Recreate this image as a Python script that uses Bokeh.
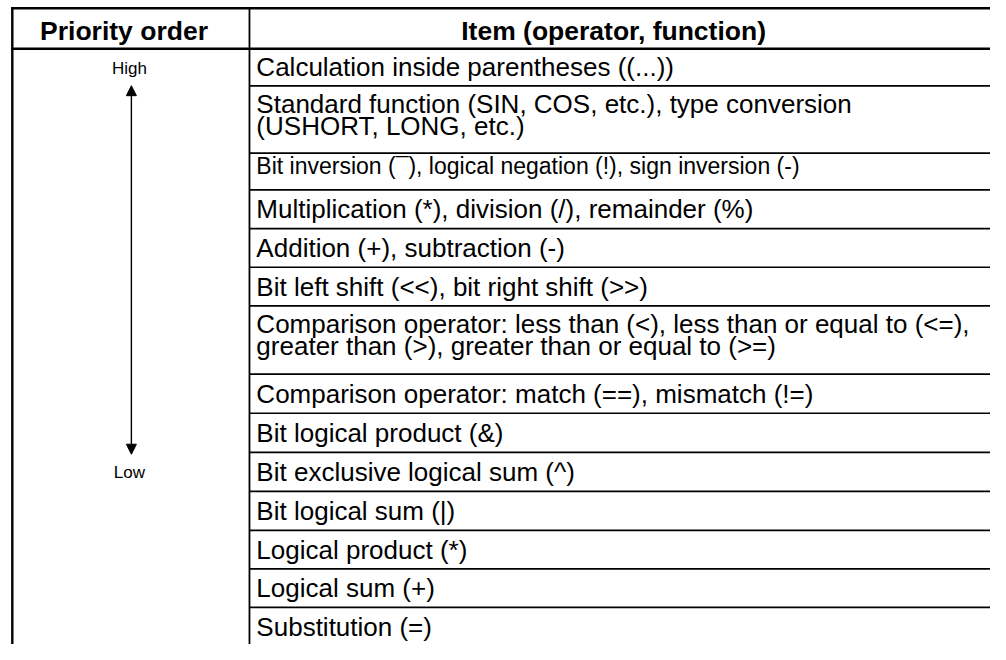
from bokeh.plotting import figure
from bokeh.models import Range1d, Arrow, NormalHead, ColumnDataSource
from bokeh.core.properties import value
from bokeh.embed import file_html
from bokeh.resources import INLINE

# ---------------- data ----------------
header_labels = ["Priority order", "Item (operator, function)"]
priority_labels = ["High", "Low"]
priority_rows = [0, 9]          # rows beside which the labels stand
items = [
    "Calculation inside parentheses ((...))",
    "Standard function (SIN, COS, etc.), type conversion\n(USHORT, LONG, etc.)",
    "Bit inversion (\u00af), logical negation (!), sign inversion (-)",
    "Multiplication (*), division (/), remainder (%)",
    "Addition (+), subtraction (-)",
    "Bit left shift (<<), bit right shift (>>)",
    "Comparison operator: less than (<), less than or equal to (<=),\ngreater than (>), greater than or equal to (>=)",
    "Comparison operator: match (==), mismatch (!=)",
    "Bit logical product (&)",
    "Bit exclusive logical sum (^)",
    "Bit logical sum (|)",
    "Logical product (*)",
    "Logical sum (+)",
    "Substitution (=)",
]
small_items = [2]               # rows set in the smaller type

# ---------------- layout (reference pixel space 1006 x 660) ----------------
FONT = "Liberation Sans"
W, H = 990, 644
REF_W, REF_H = 1006, 660
TOP = 8.0
HEADER_BOTTOM = 49.5
ROW_HEIGHTS = [38, 69, 37.5, 39.7, 39.7, 39.6, 70, 40, 40, 40, 40, 39.5, 39.5, 39.5]
LEFT = 12.0
DIVIDER = 253.0
HEADER_X = [125.5, 623.0]
FAR_RIGHT = 1030.0
FAR_BOTTOM = 700.0
TEXT_X = 260.0
LABEL_X = 131.0
ARROW_X = 133.0

p = figure(width=W, height=H, output_backend="svg", toolbar_location=None,
           x_range=Range1d(0, REF_W), y_range=Range1d(REF_H, 0),
           min_border=0, outline_line_color=None, background_fill_color="white",
           border_fill_color="white")
p.axis.visible = False
p.grid.visible = False

# row tops
tops = [HEADER_BOTTOM]
for h in ROW_HEIGHTS:
    tops.append(tops[-1] + h)

# table rules
p.segment(x0=[LEFT - 1.2, LEFT - 1.2], y0=[TOP, HEADER_BOTTOM],
          x1=[FAR_RIGHT, FAR_RIGHT], y1=[TOP, HEADER_BOTTOM],
          line_color="black", line_width=2.5)
p.segment(x0=[LEFT], y0=[TOP - 1.2], x1=[LEFT], y1=[FAR_BOTTOM],
          line_color="black", line_width=2.4)
p.segment(x0=[DIVIDER], y0=[TOP], x1=[DIVIDER], y1=[FAR_BOTTOM],
          line_color="black", line_width=1.8)
sep = tops[1:]
p.segment(x0=[DIVIDER] * len(sep), y0=sep, x1=[FAR_RIGHT] * len(sep), y1=sep,
          line_color="black", line_width=1.7)

# header text
p.text(x=HEADER_X, y=[31.5, 31.5], text=header_labels,
       text_font=value(FONT), text_font_style="bold", text_font_size="26.5px",
       text_align="center", text_baseline="middle", text_color="black")

# item text
xs, ys, ts, fs = [], [], [], []
for i, it in enumerate(items):
    lines = it.split("\n")
    for k, ln in enumerate(lines):
        xs.append(TEXT_X)
        if i in small_items:
            ys.append(tops[i] + 13.0)
            fs.append("23px")
        elif len(lines) > 1:
            ys.append(tops[i] + 18.3 + k * 23.0)
            fs.append("26px")
        else:
            ys.append((tops[i] + tops[i + 1]) / 2)
            fs.append("26px")
        ts.append(ln)
src = ColumnDataSource(dict(x=xs, y=ys, text=ts, fs=fs))
p.text(source=src, x="x", y="y", text="text", text_font_size="fs",
       text_font=value(FONT), text_align="left", text_baseline="middle",
       text_color="black")

# priority labels
py = [(tops[r] + tops[r + 1]) / 2 + 1 for r in priority_rows]
p.text(x=[LABEL_X] * 2, y=py, text=priority_labels, text_font=value(FONT),
       text_font_size="17px", text_align="center", text_baseline="middle",
       text_color="black")

# arrow between the two priority labels
y_start = tops[priority_rows[0] + 1] - 0.2
y_end = tops[priority_rows[1]] + 2.0
head = dict(size=10, fill_color="black", line_color="black", line_width=1)
p.add_layout(Arrow(start=NormalHead(**head), end=NormalHead(**head),
                   x_start=ARROW_X, y_start=y_start, x_end=ARROW_X, y_end=y_end,
                   line_color="black", line_width=1.4))

open("out.html", "w").write(file_html(p, INLINE))
